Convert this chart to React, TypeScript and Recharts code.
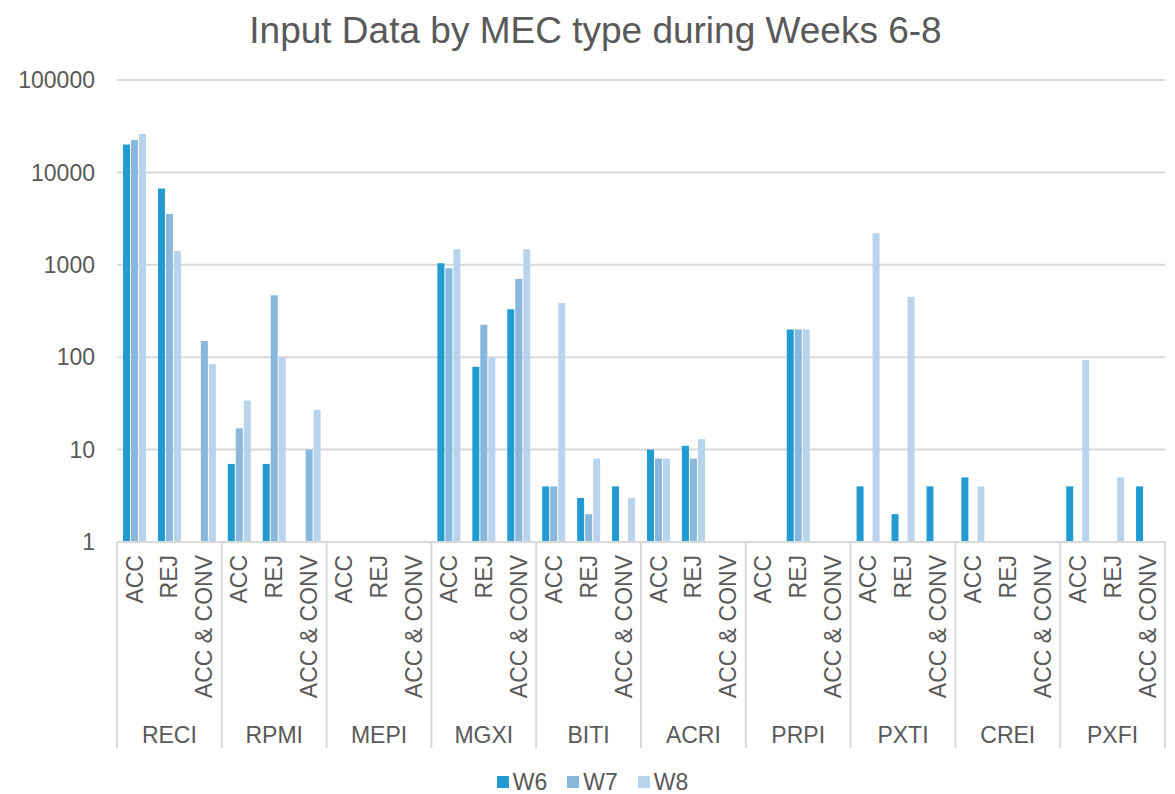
import { Bar, BarChart, CartesianGrid, Legend, XAxis, YAxis } from 'recharts';

const groups = ['RECI', 'RPMI', 'MEPI', 'MGXI', 'BITI', 'ACRI', 'PRPI', 'PXTI', 'CREI', 'PXFI'];
const subTypes = ['ACC', 'REJ', 'ACC & CONV'];

// one entry per (group, subType), in group order
const w6 = [20000, 6700, null, 7, 7, null, null, null, null, 1040, 79, 330, 4, 3, 4, 10, 11, null, null, 200, null, 4, 2, 4, 5, null, null, 4, null, 4];
const w7 = [22400, 3550, 150, 17, 468, 10, null, null, null, 920, 225, 700, 4, 2, null, 8, 8, null, null, 200, null, null, null, null, null, null, null, null, null, null];
const w8 = [26000, 1410, 84, 34, 100, 27, null, null, null, 1470, 100, 1470, 386, 8, 3, 8, 13, null, null, 200, null, 2200, 452, null, 4, null, null, 93, 5, null];

const yTicks = [1, 10, 100, 1000, 10000, 100000];

const series = [
  { key: 'W6', values: w6, color: '#229bd3' },
  { key: 'W7', values: w7, color: '#89b8df' },
  { key: 'W8', values: w8, color: '#b8d4ec' },
];

const data = groups.flatMap((group, gi) =>
  subTypes.map((sub, si) => {
    const i = gi * subTypes.length + si;
    const row: Record<string, string | number | null> = { group, sub };
    series.forEach((s) => {
      row[s.key] = s.values[i];
    });
    return row;
  })
);

const WIDTH = 1175;
const HEIGHT = 794;
const MARGIN = { top: 80, right: 10, bottom: 0, left: 0 };
const Y_AXIS_W = 117;
const BAND = (WIDTH - MARGIN.left - MARGIN.right - Y_AXIS_W) / data.length;

const FONT = '"Liberation Sans", Arial, sans-serif';
const TEXT = '#595959';
const GRID = '#d9d9d9';

function CategoryTick(props: any) {
  const { x, y, index, payload } = props;
  const per = subTypes.length;
  const left = x - BAND / 2;
  return (
    <g>
      <text
        x={x}
        y={y + 13}
        dy="0.35em"
        textAnchor="end"
        transform={`rotate(-90, ${x}, ${y + 13})`}
        fontSize={23}
        fill={TEXT}
        fontFamily={FONT}
      >
        {payload.value}
      </text>
      {index % per === 1 && (
        <text x={x} y={y + 201} textAnchor="middle" fontSize={23} fill={TEXT} fontFamily={FONT}>
          {data[index].group}
        </text>
      )}
      {index % per === 0 && <line x1={left} x2={left} y1={y} y2={y + 206} stroke={GRID} strokeWidth={2} />}
      {index === data.length - 1 && (
        <line x1={x + BAND / 2} x2={x + BAND / 2} y1={y} y2={y + 206} stroke={GRID} strokeWidth={2} />
      )}
    </g>
  );
}

function LegendContent() {
  return (
    <div
      style={{
        height: 24,
        display: 'flex',
        justifyContent: 'center',
        alignItems: 'center',
        gap: 20,
        paddingLeft: 20,
        fontFamily: FONT,
        fontSize: 23,
        color: TEXT,
        lineHeight: '24px',
      }}
    >
      {series.map((s) => (
        <span key={s.key} style={{ display: 'flex', alignItems: 'center' }}>
          <span style={{ width: 12, height: 12, background: s.color, marginRight: 4, display: 'inline-block' }} />
          {s.key}
        </span>
      ))}
    </div>
  );
}

export default function App() {
  return (
    <div style={{ position: 'absolute', left: 0, top: 0, width: WIDTH, height: HEIGHT, background: '#fff' }}>
      <div
        style={{
          position: 'absolute',
          left: 0,
          top: 12,
          width: 1191,
          textAlign: 'center',
          fontFamily: FONT,
          fontSize: 37,
          lineHeight: '37px',
          color: TEXT,
        }}
      >
        Input Data by MEC type during Weeks 6-8
      </div>
      <BarChart width={WIDTH} height={HEIGHT} data={data} margin={MARGIN} barSize={7} barGap={1}>
        <CartesianGrid vertical={false} stroke={GRID} strokeWidth={2} />
        <XAxis
          dataKey="sub"
          interval={0}
          height={228}
          tickLine={false}
          tickSize={0}
          tickMargin={0}
          axisLine={{ stroke: GRID, strokeWidth: 2 }}
          tick={<CategoryTick />}
        />
        <YAxis
          scale="log"
          domain={[1, 100000]}
          ticks={yTicks}
          allowDataOverflow
          width={Y_AXIS_W}
          axisLine={false}
          tickLine={false}
          tickSize={6}
          tickMargin={16}
          tick={{ fontSize: 23, fill: TEXT, fontFamily: FONT }}
        />
        <Legend verticalAlign="bottom" content={<LegendContent />} />
        {series.map((s) => (
          <Bar key={s.key} dataKey={s.key} fill={s.color} isAnimationActive={false} />
        ))}
      </BarChart>
    </div>
  );
}
